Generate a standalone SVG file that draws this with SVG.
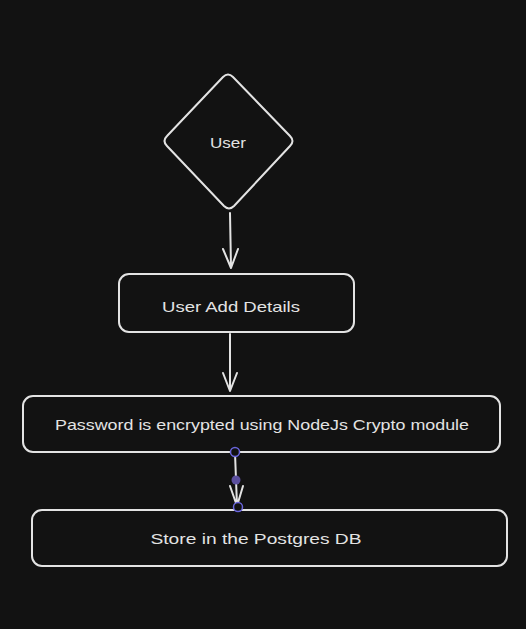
<svg xmlns="http://www.w3.org/2000/svg" width="526" height="629" viewBox="0 0 526 629">
<style>
.shape{fill:none;stroke:#e3e3e3;stroke-width:2;stroke-linejoin:round;stroke-linecap:round}
.lbl{fill:#e3e3e3;font-family:"Liberation Sans",Arial,sans-serif;font-size:15px;text-anchor:middle;dominant-baseline:central}
.conn{fill:none;stroke:#e3e3e3;stroke-width:2;stroke-linecap:round;stroke-linejoin:round}
.sel{fill:#121212;stroke:#6965db;stroke-width:1.5}
</style>
<rect width="526" height="629" fill="#121212"/>
<g id="user">
<path class="shape" d="M223 77 Q228 72 233 77 L290 136 Q295 141 290 146 L234 206 Q229 211 224 206 L167 146 Q162 141 167 136 Z"/>
<text class="lbl" x="228" y="142" textLength="36" lengthAdjust="spacingAndGlyphs">User</text>
</g>
<g id="details">
<rect class="shape" x="119" y="274" width="235" height="58" rx="10"/>
<text class="lbl" x="231" y="306" textLength="138" lengthAdjust="spacingAndGlyphs">User Add Details</text>
</g>
<g id="encrypt">
<rect class="shape" x="23" y="396" width="477" height="56" rx="10"/>
<text class="lbl" x="262" y="424" textLength="414" lengthAdjust="spacingAndGlyphs">Password is encrypted using NodeJs Crypto module</text>
</g>
<g id="store">
<rect class="shape" x="32" y="510" width="475" height="56" rx="10"/>
<text class="lbl" x="256" y="538" textLength="211" lengthAdjust="spacingAndGlyphs">Store in the Postgres DB</text>
</g>
<g id="connectors">
<path class="conn" d="M230 213 L231 268 M223 249 L231 268 L238 249"/>
<path class="conn" d="M230 334 L230 391 M223 373 L230 391 L237 373"/>
<path class="conn" d="M235 453 L237 506 M230 486 L237 506 L243 486"/>
<circle class="sel" cx="235" cy="452" r="4.5"/>
<circle cx="236" cy="480" r="4.5" fill="#5b4f9e"/>
<circle class="sel" cx="238" cy="507" r="4.5"/>
</g>
</svg>
